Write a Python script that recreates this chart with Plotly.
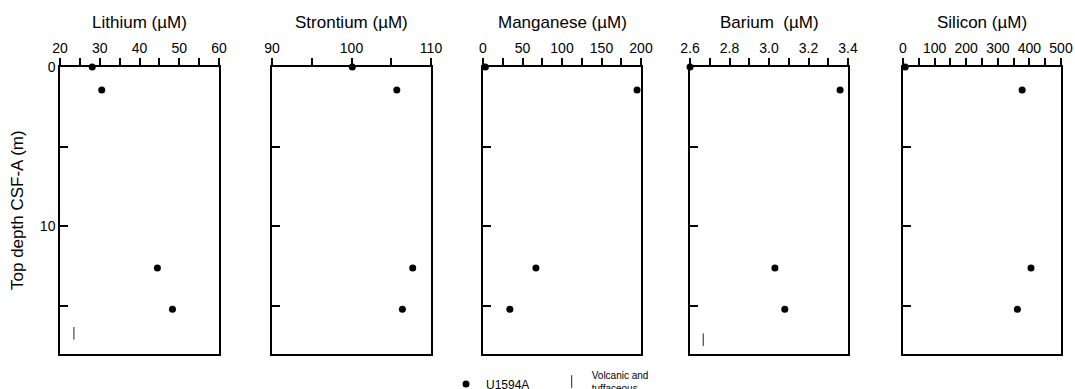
import plotly.graph_objects as go

# ---- data ----
depth = [0.0, 1.45, 12.6, 15.2]
lithium = [28.1, 30.5, 44.5, 48.3]
strontium = [100.1, 105.7, 107.7, 106.4]
manganese = [3, 195, 67, 34]
barium = [2.60, 3.36, 3.03, 3.08]
silicon = [7, 377, 405, 362]

# lithology markers ("Volcanic and tuffaceous")
volc_li_x = [23.5]
volc_li_depth = [16.7]
volc_ba_x = [2.667]
volc_ba_depth = [17.1]

titles = ["Lithium (µM)", "Strontium (µM)", "Manganese (µM)", "Barium\u00a0\u00a0(µM)", "Silicon (µM)"]
x_ranges = [[20, 60], [90, 110], [0, 200], [2.6, 3.4], [0, 500]]
x_major = [10, 10, 50, 0.2, 100]
x_minor = [5, 5, 25, 0.1, 50]
x_fmt = ["", "", "", ".1f", ""]
series = [lithium, strontium, manganese, barium, silicon]

depth_ticks = [0, 5, 10, 15]
depth_ticktext = ["0", "", "10", ""]
depth_range = [18, 0]

W, H = 1075, 389
px_domains = [(60, 219), (272, 431), (483, 641), (690, 848), (903, 1061)]
y_dom = [1 - 354 / H, 1 - 67 / H]

FONT = "Liberation Sans, Arial, sans-serif"

fig = go.Figure()
layout = dict(
    width=W, height=H,
    margin=dict(l=0, r=0, t=0, b=0, autoexpand=False),
    paper_bgcolor="white", plot_bgcolor="white",
    font=dict(family=FONT, size=14, color="black"),
)

annotations = []
for i in range(5):
    n = "" if i == 0 else str(i + 1)
    xa, ya = "x" + n, "y" + n
    fig.add_trace(go.Scatter(
        x=series[i], y=depth, xaxis=xa, yaxis=ya, mode="markers",
        marker=dict(color="black", size=7),
        name="U1594A", showlegend=(i == 0), legend="legend",
        cliponaxis=False,
    ))
    d0, d1 = px_domains[i]
    layout["xaxis" + n] = dict(
        domain=[d0 / W, d1 / W], range=x_ranges[i], side="top", anchor=ya,
        showline=True, mirror=True, linecolor="black", linewidth=1.5,
        ticks="outside", ticklen=7, tickwidth=1.5, tickcolor="black",
        tick0=x_ranges[i][0], dtick=x_major[i], tickformat=x_fmt[i],
        minor=dict(tick0=x_ranges[i][0], dtick=x_minor[i], ticks="outside",
                   ticklen=7, tickwidth=1.5, tickcolor="black", showgrid=False),
        showgrid=False, zeroline=False,
        tickfont=dict(size=14),
    )
    layout["yaxis" + n] = dict(
        domain=y_dom, range=depth_range, anchor=xa,
        showline=True, mirror=True, linecolor="black", linewidth=1.5,
        ticks="inside", ticklen=8, tickwidth=1.5, tickcolor="black",
        tickvals=depth_ticks, ticktext=depth_ticktext,
        showticklabels=(i == 0),
        showgrid=False, zeroline=False,
        tickfont=dict(size=14),
    )
    annotations.append(dict(
        text=titles[i], xref="paper", yref="paper",
        x=(d0 + d1) / 2 / W, y=1 - 22 / H, xanchor="center", yanchor="middle",
        showarrow=False, font=dict(size=17),
    ))

fig.add_trace(go.Scatter(
    x=volc_li_x, y=volc_li_depth, xaxis="x", yaxis="y", mode="markers",
    marker=dict(symbol="line-ns", size=9, line=dict(width=1, color="#222")),
    name="Volcanic and<br>tuffaceous", legend="legend2", showlegend=True,
    cliponaxis=False,
))
fig.add_trace(go.Scatter(
    x=volc_ba_x, y=volc_ba_depth, xaxis="x4", yaxis="y4", mode="markers",
    marker=dict(symbol="line-ns", size=9, line=dict(width=1, color="#222")),
    name="Volcanic and<br>tuffaceous", legend="legend2", showlegend=False,
    cliponaxis=False,
))

annotations.append(dict(
    text="Top depth CSF-A (m)", xref="paper", yref="paper",
    x=17.5 / W, y=(y_dom[0] + y_dom[1]) / 2, xanchor="center", yanchor="middle",
    textangle=-90, showarrow=False, font=dict(size=17),
))

layout["annotations"] = annotations
layout["legend"] = dict(
    x=446 / W, y=1 - 369.5 / H, xanchor="left", yanchor="top",
    orientation="h", bgcolor="rgba(0,0,0,0)", font=dict(size=12),
)
layout["legend2"] = dict(
    x=551.7 / W, y=1 - 362 / H, xanchor="left", yanchor="top",
    orientation="h", bgcolor="rgba(0,0,0,0)", font=dict(size=10),
)
fig.update_layout(**layout)
fig.write_html("out.html")
